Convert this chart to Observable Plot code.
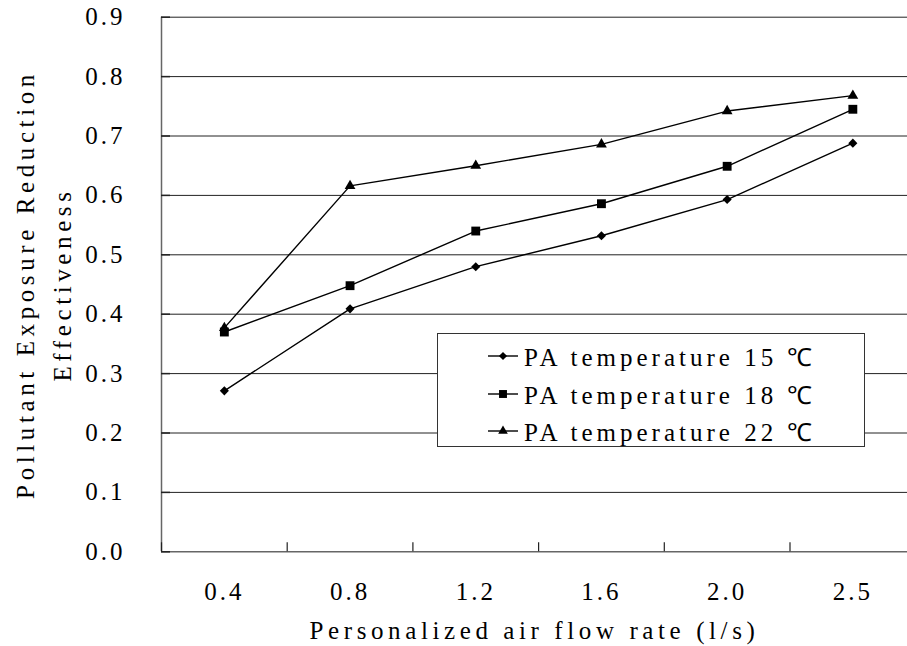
<!DOCTYPE html>
<html>
<head>
<meta charset="utf-8">
<script src="https://cdn.jsdelivr.net/npm/d3@7"></script>
<script src="https://cdn.jsdelivr.net/npm/@observablehq/plot@0.6"></script>
<style>
  html, body { margin: 0; padding: 0; background: #fff; }
  #wrap { position: relative; width: 907px; height: 646px; overflow: hidden; }
  #wrap svg text { letter-spacing: 3px; }
  #wrap svg g[aria-label="text"] text { letter-spacing: 4.6px; }
  #legend {
    position: absolute; left: 437px; top: 333px; width: 428px; height: 114px;
    border: 1.5px solid #333; background: #fff; box-sizing: border-box;
    font-family: "Liberation Serif", serif; font-size: 25px; letter-spacing: 4px; color: #000;
  }
  .row { position: absolute; left: 50px; height: 30px; display: flex; align-items: center; }
  .row svg { margin-right: 6px; }
</style>
</head>
<body>
<div id="wrap"></div>
<script>
const xLabels = ["0.4", "0.8", "1.2", "1.6", "2.0", "2.5"];
const seriesNames = ["PA temperature 15 ℃", "PA temperature 18 ℃", "PA temperature 22 ℃"];
const t15 = [0.271, 0.409, 0.480, 0.532, 0.593, 0.688];
const t18 = [0.370, 0.448, 0.540, 0.586, 0.649, 0.745];
const t22 = [0.377, 0.616, 0.650, 0.686, 0.742, 0.768];
const yTicks = [0, 0.1, 0.2, 0.3, 0.4, 0.5, 0.6, 0.7, 0.8, 0.9];
const symbols = ["diamond2", "square", "triangle"];
const radii = [4.1, 5, 4];

const xIdx = xLabels.map((_, i) => i);
const bounds = xIdx.map(i => i - 0.5);
const allSeries = [t15, t18, t22];
const data = allSeries.flatMap((vals, s) => vals.map((v, i) => ({x: i, y: v, s})));

const W = 907, H = 646, ML = 161, MT = 16.7, MB = 646 - 551.3, MR = 0;
const frameH = H - MT - MB, frameW = W - ML - MR;

const chart = Plot.plot({
  width: W, height: H,
  marginLeft: ML, marginRight: MR, marginTop: MT, marginBottom: MB,
  style: {fontFamily: "Liberation Serif, serif", fontSize: "25px", background: "#fff", color: "#000", overflow: "hidden"},
  x: {type: "linear", domain: [-0.5, 5.5], range: [ML, ML + 6 * 125.7], axis: null},
  y: {type: "linear", domain: [0, 0.9], range: [H - MB, MT], axis: null},
  marks: [
    Plot.ruleY(yTicks.slice(1), {y: d => d, stroke: "#222", strokeWidth: 1}),
    Plot.ruleY([0], {y: d => d, stroke: "#666", strokeWidth: 1.5}),
    Plot.ruleX([-0.5], {x: d => d, y1: 0, y2: 0.9, stroke: "#666", strokeWidth: 1.5}),
    Plot.tickY(yTicks, {y: d => d, insetRight: frameW - 9, stroke: "#222", strokeWidth: 1.5}),
    Plot.tickX(bounds, {x: d => d, insetTop: frameH - 9, stroke: "#222", strokeWidth: 1.2}),
    Plot.axisY({ticks: yTicks, tickSize: 0, tickPadding: 36, tickFormat: d => d.toFixed(1), label: null}),
    Plot.axisX({ticks: xIdx, tickSize: 0, tickPadding: 30, tickFormat: i => xLabels[i], label: null}),
    Plot.text(["Personalized air flow rate (l/s)"], {frameAnchor: "bottom", dy: 79, lineAnchor: "middle", fill: "#000"}),
    Plot.text(["Pollutant Exposure Reduction\nEffectiveness"], {frameAnchor: "left", dx: -121, dy: 0, rotate: -90, lineHeight: 1.5, textAnchor: "middle", lineAnchor: "middle", fill: "#000"}),
    Plot.line(data, {x: "x", y: "y", z: "s", stroke: "#000", strokeWidth: 1.4}),
    ...symbols.map((sym, s) => Plot.dot(data.filter(d => d.s === s), {x: "x", y: "y", symbol: sym, r: radii[s], fill: "#000", stroke: "none"}))
  ]
});
const wrap = document.getElementById("wrap");
wrap.appendChild(chart);

// legend
const legend = document.createElement("div");
legend.id = "legend";
seriesNames.forEach((name, s) => {
  const row = document.createElement("div");
  row.className = "row";
  row.style.top = (7 + s * 37.5) + "px";
  const sw = d3.create("svg").attr("width", 30).attr("height", 20);
  sw.append("line").attr("x1", 0).attr("x2", 30).attr("y1", 10).attr("y2", 10).attr("stroke", "#000").attr("stroke-width", 1.4);
  const symType = [d3.symbolDiamond2, d3.symbolSquare, d3.symbolTriangle][s];
  sw.append("path").attr("transform", "translate(15,10)").attr("d", d3.symbol(symType, Math.PI * radii[s] * radii[s] * 0.8)()).attr("fill", "#000");
  row.appendChild(sw.node());
  const t = document.createElement("span");
  t.textContent = name;
  row.appendChild(t);
  legend.appendChild(row);
});
wrap.appendChild(legend);
</script>
</body>
</html>
